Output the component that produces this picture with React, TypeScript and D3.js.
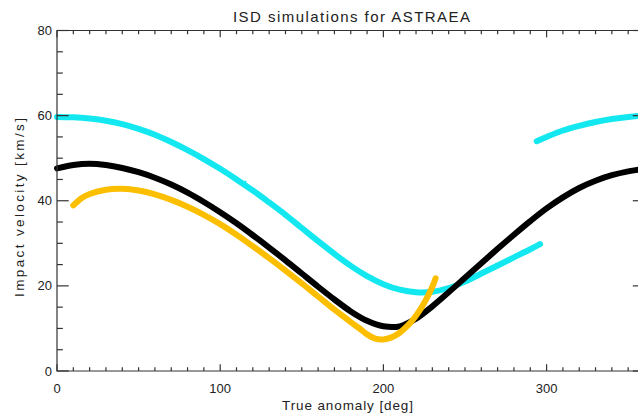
import React from "react";
import * as d3 from "d3";

const TITLE = "ISD simulations for ASTRAEA";
const X_TITLE = "True anomaly [deg]";
const Y_TITLE = "Impact velocity [km/s]";

const xMajorTicks = [0, 100, 200, 300];
const yMajorTicks = [0, 20, 40, 60, 80];

// cyan series, main arc
const cyanAnglesA = [0, 10, 20, 30, 40, 50, 60, 70, 80, 90, 100, 110, 120, 130, 140, 150, 160, 170, 180, 190, 200, 210, 220, 230, 240, 250, 260, 270, 280, 290, 296];
const cyanValuesA = [59.7, 59.6, 59.3, 58.8, 58.0, 56.9, 55.5, 53.8, 51.9, 49.8, 47.5, 45.0, 42.4, 39.6, 36.7, 33.6, 30.5, 27.5, 24.7, 22.3, 20.4, 19.1, 18.5, 18.6, 19.5, 21.0, 22.9, 24.8, 26.7, 28.6, 29.8];
// cyan series, wrapped arc
const cyanAnglesB = [294, 300, 310, 320, 330, 340, 350, 360];
const cyanValuesB = [54.0, 55.0, 56.5, 57.6, 58.5, 59.2, 59.7, 60.0];
// isolated cyan point
const cyanMarkAngle = [114.6];
const cyanMarkValue = [44.2];

// black series
const blackAngles = [0, 10, 20, 30, 40, 50, 60, 70, 80, 90, 100, 110, 120, 130, 140, 150, 160, 170, 180, 190, 200, 210, 220, 230, 240, 250, 260, 270, 280, 290, 300, 310, 320, 330, 340, 350, 360];
const blackValues = [47.6, 48.4, 48.7, 48.4, 47.7, 46.7, 45.4, 43.8, 41.9, 39.7, 37.3, 34.7, 31.9, 29.0, 26.0, 22.9, 19.8, 16.8, 14.0, 11.8, 10.5, 10.5, 12.3, 15.2, 18.5, 21.9, 25.3, 28.7, 32.0, 35.2, 38.2, 40.8, 43.0, 44.7, 46.0, 46.9, 47.5];

// gold series
const goldAngles = [10, 15, 20, 30, 40, 50, 60, 70, 80, 90, 100, 110, 120, 130, 140, 150, 160, 170, 180, 185, 190, 195, 200, 205, 210, 215, 220, 225, 230, 232];
const goldValues = [38.9, 40.6, 41.6, 42.6, 42.8, 42.4, 41.5, 40.2, 38.6, 36.7, 34.5, 32.0, 29.3, 26.5, 23.6, 20.6, 17.5, 14.4, 11.5, 10.1, 8.6, 7.6, 7.4, 7.9, 9.0, 10.7, 13.0, 16.0, 19.8, 21.8];

const W = 638;
const H = 420;

const x = d3.scaleLinear().domain([0, 360]).range([57, 644.5]);
const y = d3.scaleLinear().domain([0, 80]).range([371, 30.5]);

const zip = (a: number[], b: number[]) => a.map((v, i) => [v, b[i]] as [number, number]);

const line = d3
  .line<[number, number]>()
  .x((d) => x(d[0]))
  .y((d) => y(d[1]))
  .curve(d3.curveCatmullRom.alpha(0.5));

const CYAN = "#13e8f0";
const GOLD = "#fcbf00";
const AXIS = "#333";
const FONT = "'Liberation Sans', Arial, sans-serif";

export default function App() {
  const xMinor = d3.range(0, 361, 10);
  const yMinor = d3.range(0, 81, 5);
  const [x0, x1] = x.range();
  const [y0, y1] = y.range();
  const tlX = 6.8; // tick length for vertical ticks (x axis)
  const tlY = 11.7; // tick length for horizontal ticks (y axis)
  const mx = x(cyanMarkAngle[0]);
  const my = y(cyanMarkValue[0]);
  return (
    <svg
      width={W}
      height={H}
      style={{ position: "absolute", left: 0, top: 0, background: "#fff" }}
      fontFamily={FONT}
    >
      <rect x={0} y={0} width={W} height={H} fill="#fff" />
      {/* data */}
      <path d={line(zip(cyanAnglesA, cyanValuesA)) || ""} fill="none" stroke={CYAN} strokeWidth={6} strokeLinecap="round" />
      <path d={line(zip(cyanAnglesB, cyanValuesB)) || ""} fill="none" stroke={CYAN} strokeWidth={6} strokeLinecap="round" />
      <path d={line(zip(blackAngles, blackValues)) || ""} fill="none" stroke="#000" strokeWidth={6} strokeLinecap="round" />
      <path d={line(zip(goldAngles, goldValues)) || ""} fill="none" stroke={GOLD} strokeWidth={6} strokeLinecap="round" />
      <path
        d={`M${mx - 2},${my - 2}L${mx + 2},${my + 2}M${mx - 2},${my + 2}L${mx + 2},${my - 2}`}
        stroke={CYAN}
        strokeWidth={1.6}
      />
      {/* frame */}
      <g stroke={AXIS} strokeWidth={1.2} fill="none">
        <path d={`M${x0},${y1}H${x1}V${y0}H${x0}Z`} />
        {xMinor.map((v) => {
          const major = v % 100 === 0;
          const l = major ? tlX : tlX * 0.55;
          return (
            <g key={"xt" + v}>
              <line x1={x(v)} x2={x(v)} y1={y0} y2={y0 - l} />
              <line x1={x(v)} x2={x(v)} y1={y1} y2={y1 + l} />
            </g>
          );
        })}
        {yMinor.map((v) => {
          const major = v % 20 === 0;
          const l = major ? tlY : tlY * 0.5;
          return (
            <g key={"yt" + v}>
              <line x1={x0} x2={x0 + l} y1={y(v)} y2={y(v)} />
              <line x1={x1} x2={x1 - l} y1={y(v)} y2={y(v)} />
            </g>
          );
        })}
      </g>
      {/* tick labels */}
      <g fill="#222" fontSize={13}>
        {xMajorTicks.map((v) => (
          <text key={"xl" + v} x={x(v)} y={393} textAnchor="middle">
            {v}
          </text>
        ))}
        {yMajorTicks.map((v) => (
          <text key={"yl" + v} x={52} y={y(v) + 4.5} textAnchor="end">
            {v}
          </text>
        ))}
      </g>
      {/* titles */}
      <text x={351.5} y={22} textAnchor="middle" fontSize={15} fill="#222" textLength={237} lengthAdjust="spacing">
        {TITLE}
      </text>
      <text x={347.5} y={410} textAnchor="middle" fontSize={13.5} fill="#222" textLength={131} lengthAdjust="spacing">
        {X_TITLE}
      </text>
      <text
        transform={`translate(23.5,${207.5}) rotate(-90)`}
        textAnchor="middle"
        fontSize={13.5}
        fill="#222"
        textLength={179}
        lengthAdjust="spacing"
      >
        {Y_TITLE}
      </text>
    </svg>
  );
}
